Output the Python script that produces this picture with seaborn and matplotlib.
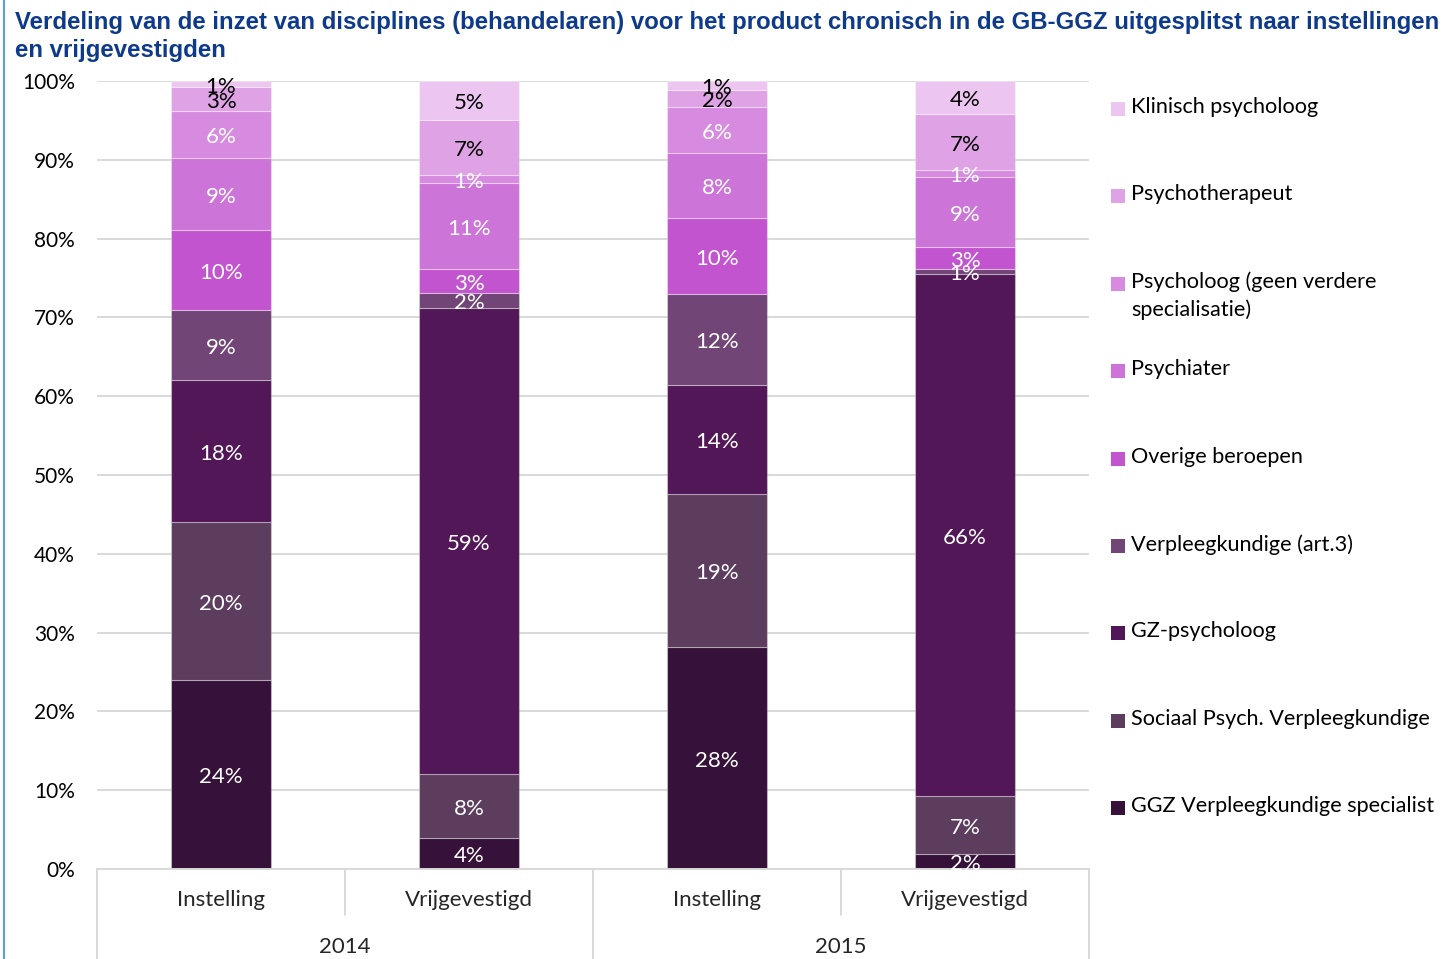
import numpy as np
import matplotlib
matplotlib.use("Agg")
import matplotlib.pyplot as plt
import seaborn as sns
from matplotlib.patches import Rectangle
from matplotlib.lines import Line2D

# Bars: year / sector
years = ["2014", "2014", "2015", "2015"]
sectors = ["Instelling", "Vrijgevestigd", "Instelling", "Vrijgevestigd"]

# Share (%) per discipline, stacked bottom to top
ggz_vs = [24.0, 3.9, 28.2, 1.9]
spv = [20.0, 8.2, 19.4, 7.4]
gz_psycholoog = [18.0, 59.1, 13.8, 66.2]
verpleegkundige = [8.9, 1.9, 11.6, 0.6]
overige = [10.2, 3.0, 9.6, 2.8]
psychiater = [9.1, 10.9, 8.3, 8.9]
psycholoog = [6.0, 1.1, 5.8, 0.9]
psychotherapeut = [3.0, 7.0, 2.2, 7.1]
klinisch = [0.8, 4.9, 1.1, 4.2]

series_names = [
    "GGZ Verpleegkundige specialist",
    "Sociaal Psych. Verpleegkundige",
    "GZ-psycholoog",
    "Verpleegkundige (art.3)",
    "Overige beroepen",
    "Psychiater",
    "Psycholoog (geen verdere\nspecialisatie)",
    "Psychotherapeut",
    "Klinisch psycholoog",
]
series_values = [ggz_vs, spv, gz_psycholoog, verpleegkundige, overige,
                 psychiater, psycholoog, psychotherapeut, klinisch]
colors = ["#36123a", "#5c3d5e", "#521757", "#724577", "#c255cf",
          "#cc74d8", "#d78be0", "#dfa2e5", "#ecc6f0"]
label_colors = ["white"] * 7 + ["black", "black"]

sns.set_theme(style="white")
plt.rcParams["font.family"] = ["Lato", "DejaVu Sans"]

W, H = 1447, 959
fig = plt.figure(figsize=(W / 100, H / 100), dpi=100)
ax = fig.add_axes([97 / W, 90 / H, 992 / W, 788 / H])

keys = [f"{y}\n{s}" for y, s in zip(years, sectors)]
bottom = np.zeros(len(keys))
for name, vals, col, tcol in zip(series_names, series_values, colors, label_colors):
    vals = np.asarray(vals, dtype=float)
    sns.barplot(x=keys, y=vals, bottom=bottom, color=col, saturation=1,
                width=0.4, errorbar=None, ax=ax,
                edgecolor=(1, 1, 1, 0.35), linewidth=0.8)
    labels = ax.bar_label(ax.containers[-1], labels=[f"{v:.0f}%" for v in vals],
                          label_type="center", color=tcol, fontsize=16)
    for t in labels:
        t.xyann = (0, -2)
        t.set_va("center")
    bottom += vals

ax.set_xlim(-0.5, 3.5)
ax.set_ylim(0, 100)
ax.set_yticks(np.arange(0, 101, 10))
ax.set_yticklabels([f"{t}%" for t in range(0, 101, 10)])
ax.tick_params(axis="y", length=0, pad=16, labelsize=15, labelcolor="#000000")
ax.tick_params(axis="x", length=0, labelbottom=False)
ax.set_xlabel("")
ax.set_ylabel("")
ax.yaxis.grid(True, color="#d9d9d9", linewidth=1.4)
ax.set_axisbelow(True)
for side in ["top", "left", "right"]:
    ax.spines[side].set_visible(False)
ax.spines["bottom"].set_color("#d9d9d9")
ax.spines["bottom"].set_linewidth(1.4)

# Two-level category axis below the bars
tr = ax.get_xaxis_transform()
px = 1 / 788
for xb in [-0.5, 1.5, 3.5]:
    ax.add_line(Line2D([xb, xb], [0, -95 * px], transform=tr, color="#d9d9d9",
                       lw=1.4, clip_on=False))
for xb in [0.5, 2.5]:
    ax.add_line(Line2D([xb, xb], [0, -46 * px], transform=tr, color="#d9d9d9",
                       lw=1.4, clip_on=False))
for i, s in enumerate(sectors):
    ax.text(i, -31 * px, s, transform=tr, ha="center", va="center", fontsize=16)
for i, y in enumerate(["2014", "2015"]):
    ax.text(2 * i + 0.5, -78 * px, y, transform=tr, ha="center", va="center",
            fontsize=16)

# Legend, top entry = top segment
for i, (name, col) in enumerate(zip(series_names[::-1], colors[::-1])):
    yc = 109 + i * 87.4
    fig.add_artist(Rectangle((1111 / W, 1 - (yc + 7) / H), 14 / W, 14 / H,
                             transform=fig.transFigure, facecolor=col,
                             edgecolor="none"))
    fig.text(1131 / W, 1 - (yc - 12) / H, name, ha="left", va="top",
             fontsize=15.6, color="#000000", linespacing=1.45)

fig.text(15 / W, 1 - 11 / H,
         "Verdeling van de inzet van disciplines (behandelaren) voor het product "
         "chronisch in de GB-GGZ uitgesplitst naar instellingen\nen vrijgevestigden",
         ha="left", va="top", fontsize=17.3, fontweight="bold",
         family="Liberation Sans", color="#0e3a8c", linespacing=1.27)

fig.add_artist(Line2D([3.5 / W, 3.5 / W], [0, 1], transform=fig.transFigure,
                      color="#5aa0d8", lw=1.5))

fig.savefig("out.png", dpi=100)
